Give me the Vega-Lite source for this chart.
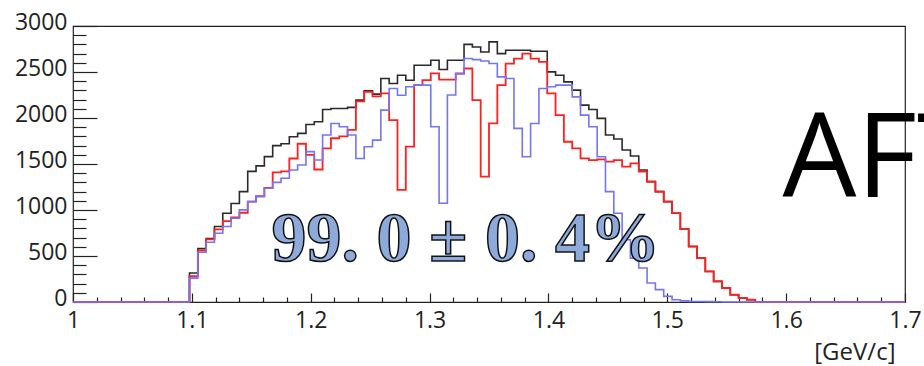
{
  "$schema": "https://vega.github.io/schema/vega-lite/v6.json",
  "width": 832,
  "height": 276,
  "autosize": {"type": "none"},
  "padding": {"left": 73, "top": 26, "right": 19, "bottom": 64},
  "background": "white",
  "config": {
    "view": {"stroke": "#222222", "strokeWidth": 1.2},
    "axis": {"grid": false, "domain": false, "labelColor": "#222222", "tickColor": "#222222", "tickWidth": 1.2, "labelFont": "Open Sans", "labelFontSize": 23, "labelFlush": false, "labelOverlap": false}
  },
  "data": {
    "values": [
      {"x": 1.0, "black": 0, "red": 0, "blue": 0},
      {"x": 1.098, "black": 315, "red": 280, "blue": 260},
      {"x": 1.105, "black": 580, "red": 560, "blue": 540},
      {"x": 1.112, "black": 690, "red": 680, "blue": 650},
      {"x": 1.119, "black": 820, "red": 790, "blue": 748},
      {"x": 1.126, "black": 965, "red": 880, "blue": 820},
      {"x": 1.133, "black": 1070, "red": 920, "blue": 911},
      {"x": 1.14, "black": 1200, "red": 970, "blue": 1001},
      {"x": 1.147, "black": 1420, "red": 1090, "blue": 1091},
      {"x": 1.154, "black": 1480, "red": 1150, "blue": 1145},
      {"x": 1.161, "black": 1580, "red": 1240, "blue": 1236},
      {"x": 1.168, "black": 1700, "red": 1410, "blue": 1300},
      {"x": 1.175, "black": 1720, "red": 1420, "blue": 1345},
      {"x": 1.182, "black": 1796, "red": 1560, "blue": 1435},
      {"x": 1.189, "black": 1833, "red": 1720, "blue": 1489},
      {"x": 1.196, "black": 1930, "red": 1600, "blue": 1634},
      {"x": 1.203, "black": 1960, "red": 1440, "blue": 1543},
      {"x": 1.21, "black": 2093, "red": 1670, "blue": 1815},
      {"x": 1.217, "black": 2104, "red": 1780, "blue": 1941},
      {"x": 1.224, "black": 2104, "red": 1800, "blue": 1905},
      {"x": 1.231, "black": 2115, "red": 1870, "blue": 1815},
      {"x": 1.238, "black": 2194, "red": 2180, "blue": 1560},
      {"x": 1.245, "black": 2295, "red": 2285, "blue": 1688},
      {"x": 1.252, "black": 2260, "red": 2235, "blue": 1760},
      {"x": 1.259, "black": 2430, "red": 2267, "blue": 2086},
      {"x": 1.266, "black": 2375, "red": 1977, "blue": 2321},
      {"x": 1.273, "black": 2465, "red": 1218, "blue": 2248},
      {"x": 1.28, "black": 2411, "red": 1688, "blue": 2339},
      {"x": 1.287, "black": 2574, "red": 2357, "blue": 2357},
      {"x": 1.294, "black": 2574, "red": 2411, "blue": 2357},
      {"x": 1.301, "black": 2628, "red": 2484, "blue": 1905},
      {"x": 1.308, "black": 2527, "red": 2418, "blue": 1074},
      {"x": 1.315, "black": 2628, "red": 2418, "blue": 2250},
      {"x": 1.322, "black": 2628, "red": 2484, "blue": 2480},
      {"x": 1.329, "black": 2800, "red": 2538, "blue": 2646},
      {"x": 1.336, "black": 2772, "red": 2194, "blue": 2635},
      {"x": 1.343, "black": 2718, "red": 1362, "blue": 2620},
      {"x": 1.35, "black": 2827, "red": 1941, "blue": 2592},
      {"x": 1.357, "black": 2700, "red": 2357, "blue": 2447},
      {"x": 1.364, "black": 2737, "red": 2592, "blue": 2430},
      {"x": 1.371, "black": 2737, "red": 2646, "blue": 1887},
      {"x": 1.378, "black": 2737, "red": 2700, "blue": 1579},
      {"x": 1.385, "black": 2725, "red": 2646, "blue": 1941},
      {"x": 1.392, "black": 2725, "red": 2610, "blue": 2321},
      {"x": 1.399, "black": 2501, "red": 2267, "blue": 2339},
      {"x": 1.406, "black": 2465, "red": 2031, "blue": 2357},
      {"x": 1.413, "black": 2393, "red": 1742, "blue": 2357},
      {"x": 1.42, "black": 2303, "red": 1670, "blue": 2230},
      {"x": 1.427, "black": 2140, "red": 1562, "blue": 2031},
      {"x": 1.434, "black": 2093, "red": 1543, "blue": 1905},
      {"x": 1.441, "black": 1996, "red": 1550, "blue": 1579},
      {"x": 1.448, "black": 1815, "red": 1525, "blue": 1200},
      {"x": 1.455, "black": 1771, "red": 1543, "blue": 965},
      {"x": 1.462, "black": 1652, "red": 1471, "blue": 676},
      {"x": 1.469, "black": 1587, "red": 1507, "blue": 477},
      {"x": 1.476, "black": 1435, "red": 1417, "blue": 369},
      {"x": 1.483, "black": 1308, "red": 1308, "blue": 206},
      {"x": 1.49, "black": 1200, "red": 1200, "blue": 134},
      {"x": 1.497, "black": 1091, "red": 1091, "blue": 61},
      {"x": 1.504, "black": 965, "red": 965, "blue": 25},
      {"x": 1.511, "black": 792, "red": 792, "blue": 12},
      {"x": 1.518, "black": 603, "red": 603, "blue": 6},
      {"x": 1.525, "black": 477, "red": 477, "blue": 5},
      {"x": 1.532, "black": 332, "red": 332, "blue": 4},
      {"x": 1.539, "black": 224, "red": 224, "blue": 3},
      {"x": 1.546, "black": 152, "red": 152, "blue": 0},
      {"x": 1.553, "black": 79, "red": 79, "blue": 0},
      {"x": 1.56, "black": 43, "red": 43, "blue": 0},
      {"x": 1.567, "black": 25, "red": 25, "blue": 0},
      {"x": 1.574, "black": 0, "red": 0, "blue": 0},
      {"x": 1.7, "black": 0, "red": 0, "blue": 0}
    ]
  },
  "layer": [
    {
      "mark": {"type": "line", "interpolate": "step-after", "stroke": "#2a2a2a", "strokeWidth": 1.6},
      "encoding": {
        "x": {"field": "x", "type": "quantitative", "scale": {"domain": [1, 1.7], "nice": false, "zero": false},
          "axis": {"orient": "bottom", "values": [1, 1.1, 1.2, 1.3, 1.4, 1.5, 1.6, 1.7], "format": "~g", "ticks": false, "labelPadding": 7, "labelBaseline": "top",
            "title": "[GeV/c]", "titleFont": "Open Sans", "titleFontSize": 24, "titleFontWeight": "normal", "titleColor": "#222222", "titleAnchor": "end", "titleAlign": "right", "titleBaseline": "alphabetic", "titleX": 822, "titleY": 57}},
        "y": {"field": "black", "type": "quantitative", "scale": {"domain": [0, 3000], "nice": false},
          "axis": {"orient": "left", "values": [0, 500, 1000, 1500, 2000, 2500, 3000], "format": "d", "ticks": false, "labelPadding": 6, "labelBaseline": "middle", "labelOffset": -4, "title": null}}
      }
    },
    {
      "mark": {"type": "line", "interpolate": "step-after", "stroke": "#ff1f1f", "strokeWidth": 1.8},
      "encoding": {
        "x": {"field": "x", "type": "quantitative",
          "axis": {"orient": "bottom", "values": [1, 1.1, 1.2, 1.3, 1.4, 1.5, 1.6, 1.7], "labels": false, "ticks": true, "tickSize": 9, "offset": -9, "title": null}},
        "y": {"field": "red", "type": "quantitative",
          "axis": {"orient": "left", "values": [0, 500, 1000, 1500, 2000, 2500, 3000], "labels": false, "ticks": true, "tickSize": 24, "offset": -24, "title": null}}
      }
    },
    {
      "mark": {"type": "line", "interpolate": "step-after", "stroke": "#7474f6", "strokeWidth": 1.6},
      "encoding": {
        "x": {"field": "x", "type": "quantitative",
          "axis": {"orient": "bottom", "values": [1.02, 1.04, 1.06, 1.08, 1.12, 1.14, 1.16, 1.18, 1.22, 1.24, 1.26, 1.28, 1.32, 1.34, 1.36, 1.38, 1.42, 1.44, 1.46, 1.48, 1.52, 1.54, 1.56, 1.58, 1.62, 1.64, 1.66, 1.68], "labels": false, "ticks": true, "tickSize": 5, "offset": -5, "title": null}},
        "y": {"field": "blue", "type": "quantitative",
          "axis": {"orient": "left", "values": [100, 200, 300, 400, 600, 700, 800, 900, 1100, 1200, 1300, 1400, 1600, 1700, 1800, 1900, 2100, 2200, 2300, 2400, 2600, 2700, 2800, 2900], "labels": false, "ticks": true, "tickSize": 13, "offset": -13, "title": null}}
      }
    },
    {
      "data": {"values": [{"label": "99. 0 ± 0. 4%"}]},
      "mark": {"type": "text", "font": "Liberation Serif", "fontWeight": "bold", "fontSize": 70, "fill": "#8eaadb", "stroke": "#111111", "strokeWidth": 1.5, "align": "center", "baseline": "alphabetic"},
      "encoding": {
        "x": {"datum": 1.3305, "type": "quantitative", "axis": null},
        "y": {"datum": 448, "type": "quantitative", "axis": null},
        "text": {"field": "label"}
      }
    },
    {
      "data": {"values": [{"label": "AFTER"}]},
      "mark": {"type": "text", "font": "Open Sans", "fontSize": 117, "fill": "#000000", "align": "left", "baseline": "alphabetic"},
      "encoding": {
        "x": {"datum": 1.597, "type": "quantitative", "axis": null},
        "y": {"datum": 1145, "type": "quantitative", "axis": null},
        "text": {"field": "label"}
      }
    }
  ],
  "resolve": {"axis": {"x": "independent", "y": "independent"}}
}
